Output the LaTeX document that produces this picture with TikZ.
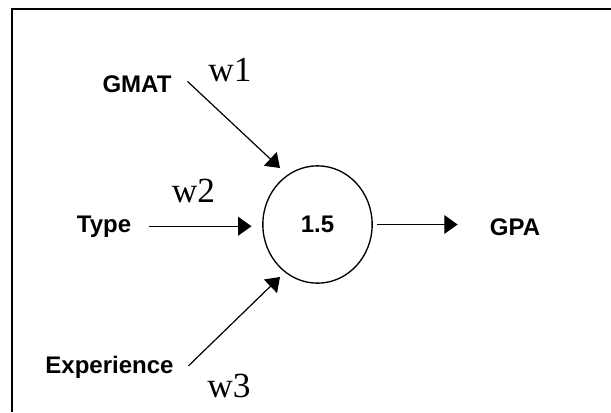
\documentclass[tikz,border=0pt]{standalone}
\usepackage{fontspec}
\setmainfont{Liberation Serif}
\setsansfont{Liberation Sans}
\usetikzlibrary{arrows.meta,shapes.geometric}
\tikzset{
    frame/.style={line width=2pt},
    input/.style={font=\sffamily\bfseries\fontsize{18}{21}\selectfont,
                  inner sep=0pt},
    weight/.style={font=\fontsize{26.5}{30}\selectfont, inner sep=0pt},
    unit/.style={ellipse, draw, line width=1pt, minimum width=82pt,
                 minimum height=88pt, inner sep=0pt,
                 font=\sffamily\bfseries\fontsize{18}{21}\selectfont},
    flow/.style={-{Triangle[length=10pt, width=14pt]}, line width=0.9pt},
}

\begin{document}
\begin{tikzpicture}[x=0.75pt, y=-0.75pt]

    \useasboundingbox (0,0) rectangle (611,412);
    \draw[frame] (12,412) -- (12,9) -- (611,9);

    \node[unit] (neuron) at (317.5,224.5) {1.5};
    \node[input, anchor=base] (gmat) at (137,92) {GMAT};
    \node[input, anchor=base] (type) at (104,232) {Type};
    \node[input, anchor=base] (experience) at (109.5,373) {Experience};
    \node[input, anchor=base] (gpa) at (515,235) {GPA};
    \node[weight, anchor=base] (wone) at (230,81) {w1};
    \node[weight, anchor=base] (wtwo) at (193.5,202) {w2};
    \node[weight, anchor=base] (wthree) at (229,397) {w3};

    \draw[flow] ([xshift=11.8pt, yshift=1.8pt]gmat.east)
        -- ([shift={(-37.5,-56.5)}]neuron.center);
    \draw[flow, shorten <=13.5pt, shorten >=8pt] (type.east)
        -- (type.east -| neuron.west);
    \draw[flow] ([xshift=11pt, yshift=0.7pt]experience.east)
        -- ([shift={(-37.5,52.5)}]neuron.center);
    \draw[flow, shorten <=3pt, shorten >=24pt] (neuron.east)
        -- (neuron.east -| gpa.west);

\end{tikzpicture}
\end{document}
